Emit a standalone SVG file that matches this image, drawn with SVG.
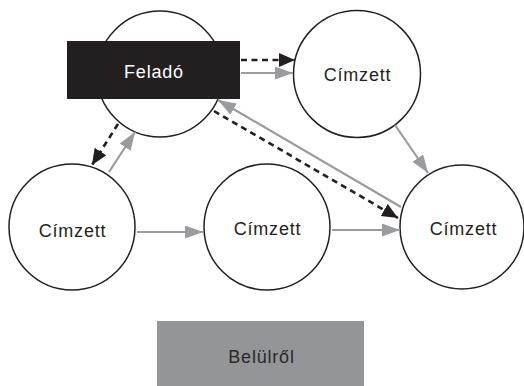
<svg xmlns="http://www.w3.org/2000/svg" width="524" height="386" viewBox="0 0 524 386">
  <style>
    .node { fill: #ffffff; stroke: #231f20; stroke-width: 1.5; }
    .label { font-family: "Liberation Sans", "DejaVu Sans", sans-serif; font-size: 18px; letter-spacing: 0.8px; fill: #231f20; text-anchor: middle; }
    .gray { stroke: #9a9b9e; stroke-width: 2.2; fill: none; marker-end: url(#headGray); }
    .dash { stroke: #231f20; stroke-width: 2.6; fill: none; stroke-dasharray: 6 4.5; marker-end: url(#headBlack); }
  </style>
  <defs>
    <marker id="headGray" markerUnits="userSpaceOnUse" markerWidth="19" markerHeight="14" refX="18" refY="6.5" orient="auto">
      <path d="M0,0 L18,6.5 L0,13 Z" fill="#9a9b9e"/>
    </marker>
    <marker id="headBlack" markerUnits="userSpaceOnUse" markerWidth="18" markerHeight="16" refX="16" refY="7" orient="auto">
      <path d="M0,0 L16,7 L0,14 Z" fill="#231f20"/>
    </marker>
  </defs>

  <rect width="524" height="386" fill="#ffffff"/>

  <!-- sender -->
  <g id="felado">
    <circle class="node" cx="160" cy="74" r="63"/>
    <rect x="67" y="41" width="173" height="58" fill="#231f20"/>
    <text class="label" x="154" y="78" style="fill:#ffffff">Feladó</text>
  </g>

  <!-- recipients -->
  <g id="cimzett-top">
    <circle class="node" cx="357" cy="74" r="63.5"/>
    <text class="label" x="357.5" y="81">Címzett</text>
  </g>
  <g id="cimzett-left">
    <circle class="node" cx="72" cy="227" r="63"/>
    <text class="label" x="72.5" y="237">Címzett</text>
  </g>
  <g id="cimzett-middle">
    <circle class="node" cx="267" cy="227" r="63"/>
    <text class="label" x="267.5" y="235">Címzett</text>
  </g>
  <g id="cimzett-right">
    <circle class="node" cx="462" cy="227" r="62"/>
    <text class="label" x="463.5" y="235">Címzett</text>
  </g>

  <!-- legend box -->
  <g id="belulrol">
    <rect x="157" y="321" width="207" height="66" fill="#939598"/>
    <text class="label" x="261.5" y="363" style="fill:#2b2829">Belülről</text>
  </g>

  <g id="connectors">
    <line class="dash" x1="241" y1="60" x2="295" y2="60"/>
    <line class="gray" x1="241" y1="73" x2="293" y2="73"/>
    <line class="dash" x1="118" y1="124" x2="92" y2="165"/>
    <line class="gray" x1="109" y1="172" x2="135" y2="132"/>
    <line class="gray" x1="401" y1="207" x2="218" y2="100"/>
    <line class="dash" x1="214" y1="111" x2="398" y2="218"/>
    <line class="gray" x1="395" y1="125" x2="428" y2="173"/>
    <line class="gray" x1="137" y1="232" x2="203" y2="232"/>
    <line class="gray" x1="332" y1="230" x2="400" y2="230"/>
  </g>
</svg>
